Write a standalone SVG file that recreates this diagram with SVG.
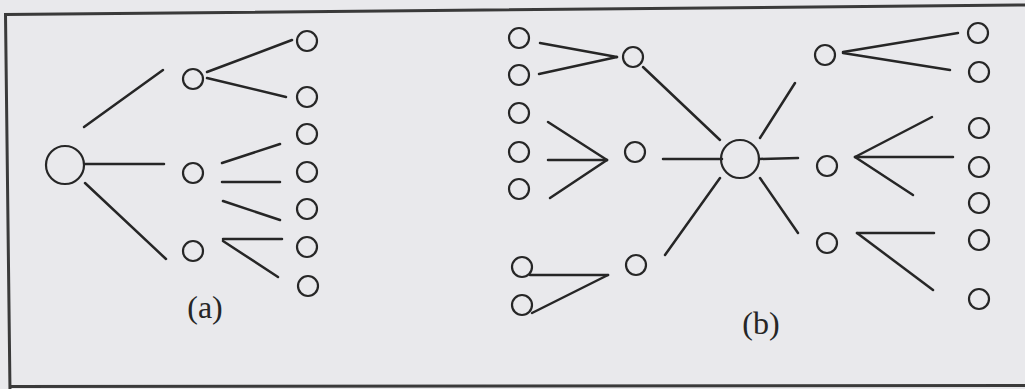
<svg xmlns="http://www.w3.org/2000/svg" width="1025" height="389" viewBox="0 0 1025 389">
<style>
.n{fill:none;stroke:#262626;stroke-width:2.2}
.c line{stroke:#262626;stroke-width:2.5;stroke-linecap:round}
.lbl{font-family:"Liberation Serif","Times New Roman",serif;font-size:32px;fill:#262626;text-anchor:middle}
</style>
<rect width="1025" height="389" fill="#e9e9ec"/>
<polyline points="1025,5 5.5,14.5 10,392" fill="none" stroke="#3a3a3a" stroke-width="3"/>
<line x1="10" y1="386.5" x2="1025" y2="385.5" stroke="#3a3a3a" stroke-width="3"/>
<g id="a-root"><circle class="n" cx="65" cy="165" r="19"/></g>
<g id="a-m1"><circle class="n" cx="193" cy="79" r="10"/></g>
<g id="a-m2"><circle class="n" cx="193" cy="173" r="10"/></g>
<g id="a-m3"><circle class="n" cx="193" cy="251" r="10"/></g>
<g id="a-l1"><circle class="n" cx="307" cy="41" r="10"/></g>
<g id="a-l2"><circle class="n" cx="307" cy="97" r="10"/></g>
<g id="a-l3"><circle class="n" cx="307" cy="134" r="10"/></g>
<g id="a-l4"><circle class="n" cx="307" cy="172" r="10"/></g>
<g id="a-l5"><circle class="n" cx="307" cy="209" r="10"/></g>
<g id="a-l6"><circle class="n" cx="307" cy="247" r="10"/></g>
<g id="a-l7"><circle class="n" cx="308" cy="286" r="10"/></g>
<g id="b-root"><circle class="n" cx="740" cy="159" r="19"/></g>
<g id="b-ml1"><circle class="n" cx="633" cy="57" r="10"/></g>
<g id="b-ml2"><circle class="n" cx="635" cy="152" r="10"/></g>
<g id="b-ml3"><circle class="n" cx="636" cy="265" r="10"/></g>
<g id="b-mr1"><circle class="n" cx="825" cy="55" r="10"/></g>
<g id="b-mr2"><circle class="n" cx="827" cy="166" r="10"/></g>
<g id="b-mr3"><circle class="n" cx="827" cy="243" r="10"/></g>
<g id="b-ll1"><circle class="n" cx="519" cy="38" r="10"/></g>
<g id="b-ll2"><circle class="n" cx="519" cy="75" r="10"/></g>
<g id="b-ll3"><circle class="n" cx="519" cy="113" r="10"/></g>
<g id="b-ll4"><circle class="n" cx="519" cy="152" r="10"/></g>
<g id="b-ll5"><circle class="n" cx="519" cy="189" r="10"/></g>
<g id="b-ll6"><circle class="n" cx="522" cy="267" r="10"/></g>
<g id="b-ll7"><circle class="n" cx="522" cy="305" r="10"/></g>
<g id="b-rl1"><circle class="n" cx="978" cy="33" r="10"/></g>
<g id="b-rl2"><circle class="n" cx="979" cy="72" r="10"/></g>
<g id="b-rl3"><circle class="n" cx="979" cy="128" r="10"/></g>
<g id="b-rl4"><circle class="n" cx="979" cy="167" r="10"/></g>
<g id="b-rl5"><circle class="n" cx="979" cy="203" r="10"/></g>
<g id="b-rl6"><circle class="n" cx="979" cy="240" r="10"/></g>
<g id="b-rl7"><circle class="n" cx="979" cy="299" r="10"/></g>
<g id="connectors" class="c">
<line x1="84" y1="127" x2="163" y2="70"/>
<line x1="85" y1="164" x2="164" y2="164"/>
<line x1="85" y1="183" x2="166" y2="259"/>
<line x1="207" y1="72" x2="292" y2="40"/>
<line x1="207" y1="78" x2="286" y2="97"/>
<line x1="222" y1="163" x2="280" y2="144"/>
<line x1="222" y1="182" x2="280" y2="182"/>
<line x1="223" y1="201" x2="280" y2="220"/>
<line x1="223" y1="239" x2="282" y2="239"/>
<line x1="223" y1="241" x2="278" y2="277"/>
<line x1="540" y1="43" x2="617" y2="57"/>
<line x1="539" y1="74" x2="617" y2="57"/>
<line x1="548" y1="122" x2="607" y2="160"/>
<line x1="548" y1="160" x2="607" y2="160"/>
<line x1="550" y1="198" x2="607" y2="160"/>
<line x1="530" y1="275" x2="608" y2="275"/>
<line x1="532" y1="313" x2="608" y2="275"/>
<line x1="643" y1="67" x2="720" y2="140"/>
<line x1="663" y1="159" x2="722" y2="159"/>
<line x1="665" y1="255" x2="720" y2="178"/>
<line x1="760" y1="138" x2="795" y2="83"/>
<line x1="759" y1="159" x2="798" y2="158"/>
<line x1="760" y1="178" x2="798" y2="233"/>
<line x1="843" y1="52" x2="958" y2="33"/>
<line x1="843" y1="53" x2="950" y2="70"/>
<line x1="855" y1="157" x2="932" y2="117"/>
<line x1="855" y1="157" x2="953" y2="157"/>
<line x1="855" y1="157" x2="913" y2="195"/>
<line x1="857" y1="233" x2="934" y2="233"/>
<line x1="857" y1="233" x2="933" y2="290"/>
</g>
<text class="lbl" x="205" y="318">(a)</text>
<text class="lbl" x="761" y="334">(b)</text>
</svg>
